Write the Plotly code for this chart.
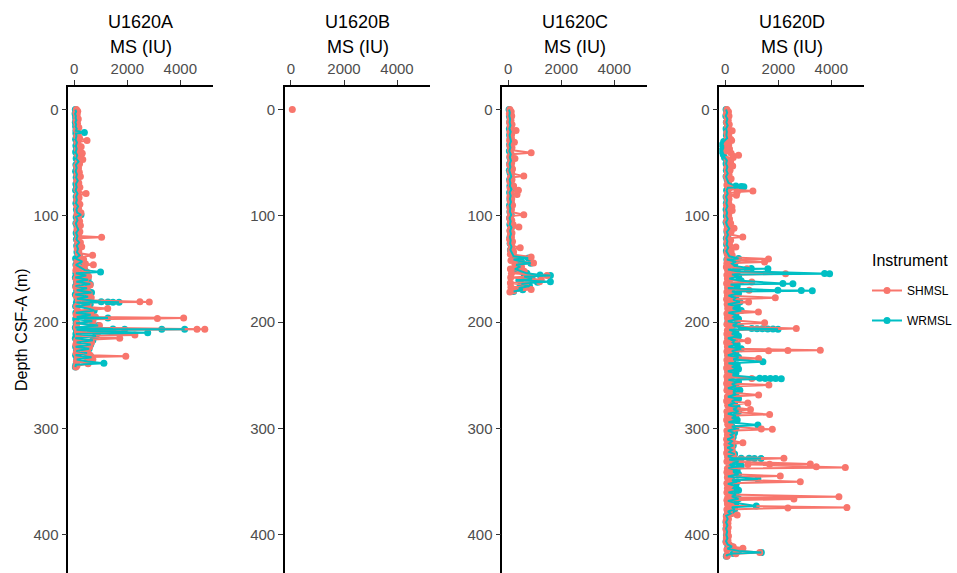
import plotly.graph_objects as go

# ---------------- data ----------------
HOLES = ["U1620A", "U1620B", "U1620C", "U1620D"]
INSTRUMENTS = ["SHMSL", "WRMSL"]
COLORS = {"SHMSL": "#F8766D", "WRMSL": "#00BFC4"}
X_TICKS = [0, 2000, 4000]
Y_TICKS = [0, 100, 200, 300, 400]

A_SH_DEPTH = [0, 1.5, 3, 5, 7, 9, 11, 13, 15, 17, 19, 21, 23, 25, 27, 29, 31, 33, 35, 37, 39, 41, 43, 45, 47, 49,
              51, 53, 55, 57, 59, 61, 63, 65, 67, 69, 71, 73, 75, 77, 79, 81, 83, 85, 87, 89, 91, 93, 95, 97, 99,
              101, 103, 105, 107, 109, 111, 113, 115, 117, 119, 120, 121, 123, 125, 127, 129, 131, 133, 135, 137,
              139, 141, 143, 145, 146, 147, 149, 151, 153, 155, 157, 159, 161, 163, 165, 167, 169, 171, 173, 175,
              177, 179, 180.8, 181, 181.3, 183, 185, 187, 189, 191, 193, 195, 196, 196.6, 197.2, 199, 201, 203, 205,
              206.5, 206.7, 207.2, 209, 210, 212, 213, 215, 217, 219, 221, 223, 225, 227, 229, 231, 232, 233, 235,
              237, 239, 241, 242]
A_SH_MS = [80, 130, 60, 110, 90, 150, 70, 120, 100, 170, 80, 120, 150, 90, 200, 480, 100, 150, 260, 110, 180, 300,
           130, 240, 320, 140, 200, 90, 160, 110, 190, 100, 230, 130, 90, 170, 120, 210, 100, 150, 445, 110, 180,
           90, 140, 210, 100, 160, 120, 250, 100, 170, 130, 200, 90, 230, 140, 100, 210, 130, 160, 1030, 140, 110,
           230, 130, 280, 110, 170, 150, 690, 210, 350, 100, 420, 720, 80, 380, 60, 480, 120, 540, 70, 420, 100,
           600, 60, 470, 130, 560, 80, 640, 150, 2476, 2830, 400, 520, 90, 1260, 120, 620, 70, 800, 4127, 3136,
           500, 700, 100, 950, 80, 4630, 4925, 600, 120, 880, 2286, 150, 1714, 90, 650, 60, 580, 100, 500, 70, 600,
           1943, 120, 700, 80, 520, 100, 60]

A_WR_DEPTH = [0, 2, 4, 6, 8, 10, 12, 14, 16, 18, 20, 21.5, 22.5, 25, 28, 31, 34, 37, 40, 43, 46, 49, 52, 55, 58,
              61, 64, 67, 70, 73, 76, 79, 82, 85, 88, 91, 94, 97, 99, 101, 104, 107, 110, 113, 116, 119, 122, 125,
              128, 131, 134, 137, 140, 143, 146, 149, 151, 152.8, 154, 156, 158, 160, 162, 164, 166, 168, 170, 172,
              174, 176, 178, 180.8, 181, 181.1, 181.2, 181.5, 183, 185, 187, 189, 191, 193, 195, 196, 197, 199, 201,
              203, 205, 206.4, 206.5, 206.6, 206.7, 207, 208.5, 210, 211, 213, 215, 217, 219, 221, 223, 225, 227,
              229, 231, 233, 235, 237, 238.5, 240, 242]
A_WR_MS = [40, 70, 30, 60, 50, 80, 40, 70, 50, 90, 60, 380, 60, 80, 50, 100, 60, 90, 50, 110, 70, 160, 60, 90, 50,
           100, 70, 130, 60, 90, 50, 120, 70, 100, 60, 140, 80, 110, 255, 70, 120, 60, 100, 150, 70, 120, 80, 180,
           90, 140, 100, 200, 50, 300, 60, 250, 400, 990, 60, 450, 40, 520, 80, 600, 50, 480, 90, 650, 40, 520,
           100, 1017, 1270, 1460, 1690, 80, 600, 50, 500, 750, 60, 620, 90, 1270, 50, 680, 70, 900, 40, 1460,
           1900, 3300, 4165, 80, 750, 2770, 60, 820, 40, 700, 90, 620, 50, 560, 80, 480, 50, 650, 90, 500, 1117,
           60, 40]

B_SH_DEPTH = [0]
B_SH_MS = [50]
B_WR_DEPTH = []
B_WR_MS = []

C_SH_DEPTH = [0, 2, 4, 6, 8, 10, 12, 14, 16, 18, 19.7, 21, 23, 25, 27, 29, 30.7, 32, 34, 36, 38, 40.7, 42, 44, 46,
              48, 50, 52, 54, 56, 58, 60, 62.6, 64, 66, 68, 70, 72, 74, 76, 78, 80, 82, 84, 86, 88, 90, 92, 94, 96,
              98.9, 100, 102, 104, 106, 108, 110.5, 112, 114, 116, 118, 120, 122, 124, 126, 128, 130, 132, 134, 136,
              138.6, 140, 142, 144.3, 146, 148, 150, 152, 154, 156, 157, 158, 160, 162, 163, 165, 167, 169.3, 170.5,
              171.5]
C_SH_MS = [60, 110, 40, 130, 70, 100, 50, 140, 70, 110, 293, 60, 130, 80, 120, 50, 230, 100, 60, 140, 80, 863, 110,
           60, 250, 90, 130, 50, 120, 160, 70, 130, 584, 80, 140, 60, 110, 200, 70, 381, 90, 330, 60, 130, 70, 120,
           160, 60, 120, 70, 584, 90, 50, 130, 80, 180, 400, 90, 60, 140, 80, 120, 50, 160, 80, 130, 450, 90, 200,
           80, 863, 300, 100, 952, 250, 500, 80, 600, 120, 1460, 700, 90, 1245, 1180, 80, 650, 100, 863, 200, 60]

C_WR_DEPTH = [0, 3, 6, 9, 12, 15, 18, 21, 24, 27, 30, 33, 36, 39, 42, 45, 48, 51, 54, 57, 60, 63, 66, 69, 72, 75,
              78, 81, 84, 87, 90, 93, 96, 99, 102, 105, 108, 111, 114, 117, 120, 123, 126, 129, 132, 135, 138, 139.5,
              141, 143, 144.5, 146, 148, 150, 152, 154, 155.5, 156, 157, 159, 160.5, 162, 162.5, 164, 166, 168,
              169.5, 171]
C_WR_MS = [30, 60, 40, 70, 50, 80, 40, 90, 50, 70, 100, 50, 80, 40, 90, 60, 100, 50, 80, 40, 70, 110, 50, 80, 60,
           120, 50, 90, 60, 100, 50, 80, 60, 110, 50, 90, 60, 120, 70, 100, 60, 90, 70, 120, 80, 150, 200, 750, 200,
           500, 850, 300, 450, 250, 500, 700, 1200, 1588, 600, 900, 400, 1588, 1100, 500, 800, 400, 546, 200]

D_SH_DEPTH = [0, 2, 4, 6, 8, 10, 12, 14, 16, 18, 20, 22, 24, 26, 28, 29, 31, 33, 35, 37, 39, 41, 43, 45, 47, 49,
              51, 53, 55, 57, 59, 61, 63, 65, 67, 69, 71, 73, 75, 76.7, 77.5, 79, 80.7, 82, 84, 86, 88, 90, 91.7,
              93, 95, 97, 99, 101, 103, 105, 107, 109, 111.7, 113, 115, 117, 119.9, 121, 123, 125, 127, 129.3, 131,
              133, 135, 137, 139, 140.5, 141.5, 143.3, 144.5, 146, 148, 149.6, 151, 153, 154.3, 155.5, 157, 159,
              160.5, 162.2, 163.5, 165, 167, 168.5, 170, 171.5, 173, 175, 177, 178.5, 180, 181, 183, 185, 187,
              188.5, 190.3, 192, 194, 196, 198, 200.6, 202, 204, 206, 207.5, 209, 211, 213, 215, 217.5, 219, 221,
              223, 225, 226.3, 226.5, 226.7, 227.5, 229.5, 231, 232.5, 234, 235.5, 237, 239, 241, 243, 245, 247,
              249, 251, 252.9, 254, 256, 257.5, 259, 260.5, 262, 264, 266, 268.5, 270, 272, 274, 276, 278, 280,
              282, 284, 286.7, 288, 290, 292, 294, 296, 298, 300.3, 300.6, 302, 304, 306, 308, 310, 311.5, 313.3,
              315, 317, 319, 321, 323, 325, 327, 328, 329.5, 331, 333.3, 333.5, 333.7, 335.8, 336.5, 337.5, 339,
              341, 343, 344.6, 346, 348, 350, 351.5, 353, 354.6, 356, 358, 360, 362, 364, 365, 366.2, 367.5, 369,
              371, 372.5, 374.3, 374.6, 376, 378, 380, 381.2, 383, 385, 387, 389, 391, 393, 395, 397, 399, 401,
              403, 405, 407, 409, 411, 412.5, 414, 416.6, 417.8, 419, 420]
D_SH_MS = [60, 120, 40, 140, 70, 110, 50, 150, 90, 120, 260, 60, 130, 80, 200, 240, 50, 130, 90, 160, 60, 220, 500,
           300, 70, 200, 90, 280, 60, 180, 80, 140, 50, 220, 90, 130, 60, 180, 120, 1042, 450, 80, 420, 60, 140,
           90, 130, 50, 250, 80, 260, 60, 130, 90, 160, 50, 200, 80, 330, 60, 220, 90, 660, 70, 200, 60, 160, 400,
           80, 220, 60, 260, 100, 1630, 80, 1483, 60, 200, 40, 820, 90, 220, 2275, 60, 200, 80, 150, 1000, 50,
           200, 90, 150, 900, 60, 200, 80, 1887, 50, 180, 880, 70, 200, 90, 160, 1250, 60, 220, 80, 150, 1483, 60,
           200, 2679, 80, 150, 60, 200, 90, 850, 50, 160, 80, 200, 3585, 2362, 1634, 60, 150, 90, 200, 1257, 60,
           200, 80, 220, 50, 180, 90, 150, 60, 1000, 80, 200, 50, 1645, 90, 180, 60, 150, 1257, 80, 200, 50, 850,
           90, 200, 950, 60, 1672, 80, 200, 50, 150, 90, 200, 1358, 1774, 60, 250, 80, 250, 50, 250, 664, 60, 250,
           80, 260, 50, 300, 90, 2211, 220, 60, 3208, 1672, 853, 3434, 4528, 80, 150, 60, 200, 2075, 80, 150, 2830,
           60, 200, 180, 80, 200, 60, 150, 4287, 90, 2589, 60, 200, 80, 220, 4589, 2362, 60, 150, 80, 450, 40, 120,
           30, 100, 40, 110, 30, 90, 50, 120, 40, 100, 30, 150, 300, 664, 60, 1300, 400, 80, 60]

D_WR_DEPTH = [0, 3, 6, 9, 12, 15, 18, 21, 24, 27, 30, 33, 36, 39, 42, 45, 48, 51, 54, 57, 60, 63, 66, 69, 72, 72.3,
              72.6, 73.5, 76, 79, 82, 85, 88, 91, 94, 97, 100, 103, 106, 109, 112, 115, 118, 121, 124, 127, 130, 133,
              136, 138, 140, 141, 143, 145, 147, 149.5, 149.7, 150.5, 152, 154.2, 154.4, 155, 157, 159, 161, 163.6,
              163.8, 164.5, 166, 168, 170, 170.2, 170.4, 171, 173, 175, 177, 179, 181, 183, 185, 187, 189, 191, 193,
              195, 197, 199, 201, 203, 205, 206, 206.1, 206.2, 206.3, 206.4, 206.5, 207, 209, 211, 213, 215, 217,
              219, 221, 223, 225, 227, 229, 231, 233, 235, 237.2, 238.5, 240, 242, 244, 246, 248, 250, 252.7, 252.8,
              252.9, 253, 253.1, 254, 256, 258, 260, 262, 264, 266, 268, 270, 272, 274, 276, 278, 280, 282, 284,
              286, 288, 290, 292, 294, 296.7, 298, 300, 302, 304, 306, 308, 310, 312, 314, 316, 318, 320, 322, 324,
              326, 327.8, 327.9, 328, 328.1, 328.2, 329, 331, 333, 335, 337, 339, 341, 343, 345, 347.4, 348.5, 350,
              352, 354, 356, 358, 360, 362, 364, 366, 368, 370, 372.8, 374, 376, 378, 380, 382, 385, 388, 391, 394,
              397, 400, 403, 406, 409, 411, 413, 415, 416.6, 417.5, 419, 420]
D_WR_MS = [30, 70, 20, 80, 40, 90, 30, 60, 40, 70, -60, -120, -90, -140, -80, -30, 60, 30, 80, 40, 90, 30, 70, 120,
           400, 600, 700, 100, 50, 90, 30, 70, 40, 80, 30, 70, 40, 90, 30, 70, 150, 60, 100, 40, 80, 50, 110, 40,
           90, 150, 500, 60, 400, 250, 350, 981, 1607, 100, 450, 3747, 3936, 250, 500, 150, 600, 2173, 2551, 200,
           450, 100, 1985, 2868, 3283, 250, 500, 120, 400, 300, 550, 100, 450, 280, 600, 120, 400, 300, 500, 100,
           450, 280, 600, 1000, 1200, 1400, 1600, 1800, 1990, 150, 400, 250, 500, 100, 350, 280, 450, 120, 600,
           250, 400, 100, 500, 300, 1419, 120, 450, 250, 500, 100, 400, 280, 1300, 1500, 1700, 1900, 2113, 120,
           500, 250, 400, 100, 550, 300, 400, 100, 500, 250, 350, 120, 450, 300, 500, 100, 400, 250, 450, 120,
           1230, 250, 400, 100, 350, 200, 300, 80, 250, 150, 300, 80, 250, 150, 350, 100, 300, 600, 900, 1100,
           1350, 150, 500, 250, 600, 120, 450, 300, 500, 100, 1230, 250, 450, 100, 400, 300, 500, 120, 400, 250,
           500, 100, 400, 1170, 250, 350, 100, 200, 40, 90, 30, 80, 30, 70, 40, 80, 30, 90, 250, 80, 500, 1360,
           300, 60, 40]

SERIES = {
    ("U1620A", "SHMSL"): (A_SH_DEPTH, A_SH_MS),
    ("U1620A", "WRMSL"): (A_WR_DEPTH, A_WR_MS),
    ("U1620B", "SHMSL"): (B_SH_DEPTH, B_SH_MS),
    ("U1620B", "WRMSL"): (B_WR_DEPTH, B_WR_MS),
    ("U1620C", "SHMSL"): (C_SH_DEPTH, C_SH_MS),
    ("U1620C", "WRMSL"): (C_WR_DEPTH, C_WR_MS),
    ("U1620D", "SHMSL"): (D_SH_DEPTH, D_SH_MS),
    ("U1620D", "WRMSL"): (D_WR_DEPTH, D_WR_MS),
}
for k, (d, v) in SERIES.items():
    assert len(d) == len(v), (k, len(d), len(v))

# ---------------- layout constants ----------------
W, H = 957, 573
TOP = 87
PLOT_H = H - TOP
PANEL_LEFT = [68.3, 285.0, 502.3, 719.3]
PANEL_W = 145.0
X_RANGE = [-226, 5245]
Y_RANGE = [435.8, -21.2]
FONT = "Liberation Sans, Arial, Helvetica, sans-serif"


def py(px):
    return (H - px) / PLOT_H


fig = go.Figure()

# drawing order: teal points, red points, red lines, teal lines
MARKER_ORDER = ["WRMSL", "SHMSL"]
LINE_ORDER = ["SHMSL", "WRMSL"]
for i, hole in enumerate(HOLES):
    ax = "" if i == 0 else str(i + 1)
    for inst in MARKER_ORDER:
        d, v = SERIES[(hole, inst)]
        if len(d) > 0:
            fig.add_trace(go.Scatter(x=v, y=d, mode="markers", marker=dict(color=COLORS[inst], size=7),
                                     xaxis="x" + ax, yaxis="y" + ax, showlegend=False, name=inst))
    for inst in LINE_ORDER:
        d, v = SERIES[(hole, inst)]
        if len(d) > 1:
            fig.add_trace(go.Scatter(x=v, y=d, mode="lines", line=dict(color=COLORS[inst], width=2),
                                     xaxis="x" + ax, yaxis="y" + ax, showlegend=False, hoverinfo="skip"))

# legend entries
for inst in INSTRUMENTS:
    fig.add_trace(go.Scatter(x=[None], y=[None], mode="lines+markers", name=inst,
                             line=dict(color=COLORS[inst], width=2), marker=dict(color=COLORS[inst], size=7),
                             legendgroup=inst, showlegend=True))

axis_common = dict(showline=True, linecolor="black", linewidth=1.6, ticks="outside", ticklen=5, tickwidth=1.2,
                   tickcolor="#333333", showgrid=False, zeroline=False, automargin=False,
                   tickfont=dict(family=FONT, size=15, color="#4D4D4D"))

layout = dict(width=W, height=H, margin=dict(l=0, r=0, t=TOP, b=0, autoexpand=False),
              plot_bgcolor="white", paper_bgcolor="white",
              font=dict(family=FONT), showlegend=True,
              legend=dict(x=867 / W, y=py(276), xanchor="left", yanchor="top", traceorder="grouped",
                          font=dict(size=12, color="black", family=FONT), tracegroupgap=11,
                          itemwidth=30, bgcolor="rgba(0,0,0,0)"))

annotations = []
for i, hole in enumerate(HOLES):
    ax = "" if i == 0 else str(i + 1)
    x0 = PANEL_LEFT[i] / W
    x1 = (PANEL_LEFT[i] + PANEL_W) / W
    layout["xaxis" + ax] = dict(domain=[x0, x1], range=X_RANGE, side="top", anchor="y" + ax,
                                tickvals=X_TICKS, ticktext=[str(t) for t in X_TICKS], **axis_common)
    layout["yaxis" + ax] = dict(domain=[0, 1], range=Y_RANGE, anchor="x" + ax,
                                tickvals=Y_TICKS, ticktext=[str(t) for t in Y_TICKS], **axis_common)
    cx = (x0 + x1) / 2
    annotations.append(dict(text=hole, x=cx, y=py(22), xref="paper", yref="paper", showarrow=False,
                            font=dict(size=18, color="black", family=FONT), xanchor="center", yanchor="middle"))
    annotations.append(dict(text="MS (IU)", x=cx, y=py(47), xref="paper", yref="paper", showarrow=False,
                            font=dict(size=18, color="black", family=FONT), xanchor="center", yanchor="middle"))

annotations.append(dict(text="Depth CSF-A (m)", x=21 / W, y=py(330), xref="paper", yref="paper", showarrow=False,
                        textangle=-90, font=dict(size=16, color="black", family=FONT),
                        xanchor="center", yanchor="middle"))
annotations.append(dict(text="Instrument", x=870 / W, y=py(260), xref="paper", yref="paper", showarrow=False,
                        font=dict(size=16, color="black", family=FONT), xanchor="left", yanchor="middle"))
layout["annotations"] = annotations
fig.update_layout(**layout)

fig.write_html("out.html", config={"displayModeBar": False},
               post_script="document.body.style.margin='0';document.body.style.overflow='hidden';")
